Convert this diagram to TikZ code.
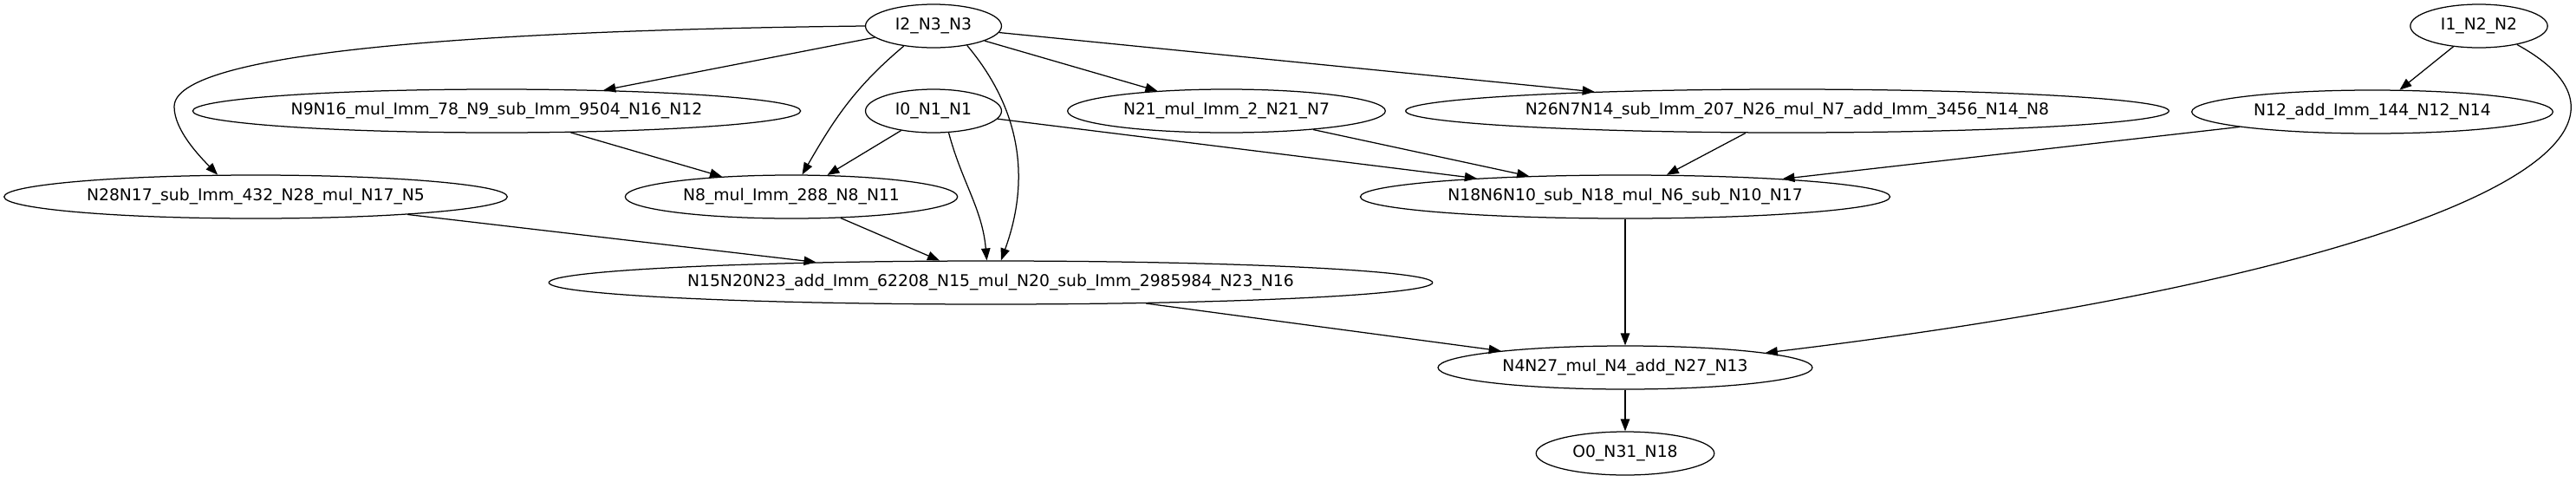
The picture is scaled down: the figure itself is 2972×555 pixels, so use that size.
\documentclass[tikz,border=0pt]{standalone}
\usepackage{fontspec}
\setmainfont{DejaVu Sans}
\usetikzlibrary{arrows.meta,shapes.geometric}

\begin{document}
\begin{tikzpicture}[x=0.72pt, y=-0.72pt,
    ell/.style={draw, ellipse, line width=0.9pt, inner sep=0pt, minimum height=36pt, font=\fontsize{13.5pt}{16pt}\selectfont},
    arr/.style={-{Triangle[length=10pt,width=7.5pt]}, line width=0.9pt}
  ]
    \useasboundingbox (0,0) rectangle (2972,555);
    % inputs
    \node[ell, minimum width=113pt] (i2) at (1077,30) {I2\_N3\_N3};
    \node[ell, minimum width=114pt] (i1) at (2860,30) {I1\_N2\_N2};
    \node[ell, minimum width=113pt] (i0) at (1077,128) {I0\_N1\_N1};
    % operations
    \node[ell, minimum width=505pt] (n9) at (573,128) {N9N16\_mul\_Imm\_78\_N9\_sub\_Imm\_9504\_N16\_N12};
    \node[ell, minimum width=264pt] (n21) at (1415,128) {N21\_mul\_Imm\_2\_N21\_N7};
    \node[ell, minimum width=634pt] (n26) at (2062,128) {N26N7N14\_sub\_Imm\_207\_N26\_mul\_N7\_add\_Imm\_3456\_N14\_N8};
    \node[ell, minimum width=300pt] (n12) at (2737,129) {N12\_add\_Imm\_144\_N12\_N14};
    \node[ell, minimum width=418pt] (n28) at (295,227) {N28N17\_sub\_Imm\_432\_N28\_mul\_N17\_N5};
    \node[ell, minimum width=276pt] (n8) at (913,227) {N8\_mul\_Imm\_288\_N8\_N11};
    \node[ell, minimum width=440pt] (n18) at (1875,227) {N18N6N10\_sub\_N18\_mul\_N6\_sub\_N10\_N17};
    \node[ell, minimum width=734pt] (n15) at (1143,326) {N15N20N23\_add\_Imm\_62208\_N15\_mul\_N20\_sub\_Imm\_2985984\_N23\_N16};
    \node[ell, minimum width=311pt] (n4) at (1875,424) {N4N27\_mul\_N4\_add\_N27\_N13};
    % output
    \node[ell, minimum width=148pt] (o0) at (1875,523) {O0\_N31\_N18};

    \draw[arr] (i2.180) .. controls (550,35) and (201,60) .. (201,123) .. controls (201,150) and (230,180) .. (n28.150);
    \draw[arr] (i2) -- (n9);
    \draw[arr] (i2.-146) to[out=-140,in=60] (n8.64);
    \draw[arr] (i2.-30) to[out=-50,in=70] (n15.65);
    \draw[arr] (i2) -- (n21);
    \draw[arr] (i2) -- (n26);
    \draw[arr] (i0) -- (n8);
    \draw[arr] (i0.-55) to[out=-75,in=95] (n15.100);
    \draw[arr] (i0) -- (n18);
    \draw[arr] (i1) -- (n12);
    \draw[arr] (i1.-26) .. controls (3120,170) and (2760,320) .. (n4.6);
    \draw[arr] (n9) -- (n8);
    \draw[arr] (n21) -- (n18);
    \draw[arr] (n26) -- (n18);
    \draw[arr] (n12) -- (n18);
    \draw[arr] (n28) -- (n15);
    \draw[arr] (n8) -- (n15);
    \draw[arr] (n15) -- (n4);
    \draw[arr] (n18) -- (n4);
    \draw[arr] (n4) -- (o0);
\end{tikzpicture}
\end{document}
